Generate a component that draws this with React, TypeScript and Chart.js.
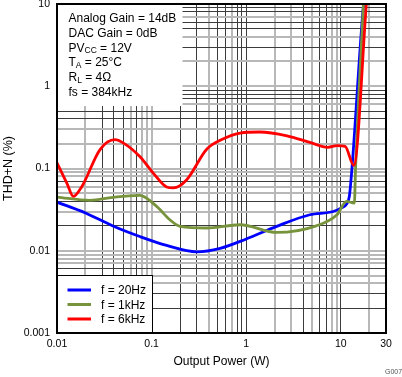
import React, { useEffect, useRef } from 'react';
import { Chart, registerables } from 'chart.js';

Chart.register(...registerables);

// ---- Data ----
const f20Power = [0.01, 0.02, 0.039, 0.075, 0.144, 0.3, 0.53, 1.0, 2.1, 4.7, 8.3, 10, 11.5, 12.3, 13.1, 17.3, 17.8];
const f20Thd = [0.039, 0.0288, 0.02, 0.0149, 0.0116, 0.0097, 0.0107, 0.0139, 0.0198, 0.0274, 0.03, 0.033, 0.037, 0.046, 0.1, 9.4, 12];

const f1kPower = [0.01, 0.0224, 0.039, 0.075, 0.113, 0.156, 0.2, 0.38, 0.86, 2.1, 5.5, 9.1, 11.5, 13.9, 14.3, 17.4];
const f1kThd = [0.045, 0.041, 0.0446, 0.047, 0.0346, 0.0238, 0.0198, 0.0189, 0.0207, 0.0167, 0.0201, 0.0274, 0.0398, 0.038, 0.1, 11];

const f6kPower = [0.01, 0.0127, 0.0149, 0.0182, 0.0285, 0.041, 0.05, 0.075, 0.104, 0.144, 0.17, 0.235, 0.38, 0.53, 0.86, 1.39, 2.7, 4.7, 7.3, 9.1, 11.1, 13.7, 18.6];
const f6kThd = [0.117, 0.0665, 0.0458, 0.0596, 0.17, 0.224, 0.205, 0.14, 0.088, 0.0596, 0.058, 0.073, 0.17, 0.22, 0.27, 0.278, 0.25, 0.208, 0.181, 0.19, 0.186, 0.109, 10];

const seriesLabels = ['f = 20Hz', 'f = 1kHz', 'f = 6kHz'];
const seriesColors = ['#0000FF', '#77933C', '#FF0000'];

const xLabelValues = [0.01, 0.1, 1, 10, 30];
const xLabels = ['0.01', '0.1', '1', '10', '30'];
const yLabelValues = [0.001, 0.01, 0.1, 1, 10];
const yLabels = ['0.001', '0.01', '0.1', '1', '10'];

const xDecades = [0.01, 0.1, 1];
const xExtra = [10, 20, 30];
const yDecades = [0.001, 0.01, 0.1, 1];
const yExtra = [10];
const multipliers = [1, 2, 3, 4, 5, 6, 7, 8, 9];

const conditions: Array<Array<[string, boolean]>> = [
  [['Analog Gain = 14dB', false]],
  [['DAC Gain = 0dB', false]],
  [['PV', false], ['CC', true], [' = 12V', false]],
  [['T', false], ['A', true], [' = 25°C', false]],
  [['R', false], ['L', true], [' = 4Ω', false]],
  [['fs = 384kHz', false]],
];

const xTitle = 'Output Power (W)';
const yTitle = 'THD+N (%)';
const figId = 'G007';

// ---- helpers ----
const FONT = '"Liberation Sans", Arial, sans-serif';
const gridValues = (decades: number[], extra: number[]) => {
  const out: number[] = [];
  decades.forEach((d) => multipliers.forEach((m) => out.push(Number((d * m).toPrecision(3)))));
  return out.concat(extra);
};
const xGrid = gridValues(xDecades, xExtra);
const yGrid = gridValues(yDecades, yExtra);

const labelFor = (v: number, vals: number[], labels: string[]) => {
  const i = vals.findIndex((L) => Math.abs(v - L) / L < 1e-6);
  return i >= 0 ? labels[i] : '';
};

const gridColor = (c: any) => {
  if (!c.tick || !c.scale) return '#666';
  const p = c.scale.getPixelForValue(c.tick.value);
  const d = Math.abs(p - Math.round(p));
  return d < 0.25 ? '#3c3c3c' : '#b8b8b8';
};
const gridWidth = (c: any) => {
  if (!c.tick || !c.scale) return 1;
  const p = c.scale.getPixelForValue(c.tick.value);
  const d = Math.abs(p - Math.round(p));
  return d < 0.25 ? 1 : 2;
};

const zip = (xs: number[], ys: number[]) => xs.map((x, i) => ({ x, y: ys[i] }));

const overlayPlugin = {
  id: 'overlay',
  beforeDatasetsDraw(chart: any) {
    const { ctx, chartArea: a } = chart;
    ctx.save();
    // conditions box
    ctx.fillStyle = '#ffffff';
    ctx.fillRect(a.left, a.top, 125.5, 102);
    ctx.fillStyle = '#000';
    ctx.textBaseline = 'alphabetic';
    conditions.forEach((parts, i) => {
      let x = a.left + 11.5;
      const y = a.top + 18 + i * 14.8;
      parts.forEach(([t, sub]) => {
        ctx.font = sub ? `8.5px ${FONT}` : `12px ${FONT}`;
        ctx.fillText(t, x, sub ? y + 1.8 : y);
        x += ctx.measureText(t).width;
      });
    });
    // legend box
    const lx = a.left, ly = 275, lw = 95, lh = a.bottom - 275;
    ctx.fillStyle = '#ffffff';
    ctx.fillRect(lx, ly, lw, lh);
    ctx.strokeStyle = '#000';
    ctx.lineWidth = 1;
    ctx.strokeRect(lx + 0.5, ly + 0.5, lw, lh);
    const rows = [290, 304.5, 319];
    seriesLabels.forEach((lab, i) => {
      ctx.strokeStyle = seriesColors[i];
      ctx.lineWidth = 3;
      ctx.beginPath();
      ctx.moveTo(lx + 10.5, rows[i]);
      ctx.lineTo(lx + 34, rows[i]);
      ctx.stroke();
      ctx.fillStyle = '#000';
      ctx.font = `12px ${FONT}`;
      ctx.fillText(lab, lx + 44, rows[i] + 4.3);
    });
    ctx.restore();
  },
  afterDraw(chart: any) {
    const { ctx, chartArea: a } = chart;
    ctx.save();
    ctx.strokeStyle = '#000';
    ctx.lineWidth = 2;
    ctx.strokeRect(a.left, a.top, a.right - a.left, a.bottom - a.top);
    ctx.fillStyle = '#555';
    ctx.font = `7px ${FONT}`;
    ctx.textBaseline = 'middle';
    ctx.fillText(figId, 385, 372);
    ctx.restore();
  },
};

export default function App() {
  const ref = useRef<HTMLCanvasElement | null>(null);
  useEffect(() => {
    document.body.style.margin = '0';
    const canvas = ref.current;
    if (!canvas) return;
    const mk = (i: number, xs: number[], ys: number[], order: number) => ({
      label: seriesLabels[i],
      data: zip(xs, ys),
      borderColor: seriesColors[i],
      backgroundColor: seriesColors[i],
      borderWidth: 2.8,
      pointRadius: 0,
      cubicInterpolationMode: 'monotone' as const,
      order,
    });
    const chart = new Chart(canvas, {
      type: 'line',
      data: {
        datasets: [
          mk(0, f20Power, f20Thd, 2),
          mk(1, f1kPower, f1kThd, 1),
          mk(2, f6kPower, f6kThd, 0),
        ],
      },
      options: {
        responsive: false,
        animation: false,
        layout: { padding: { top: 4, right: 16, left: 0, bottom: 0 } },
        plugins: { legend: { display: false }, tooltip: { enabled: false } },
        scales: {
          x: {
            type: 'logarithmic',
            min: 0.01,
            max: 30,
            afterBuildTicks: (s: any) => {
              s.ticks = xGrid.map((v) => ({ value: v }));
            },
            afterFit: (s: any) => {
              s.height = 44;
              s.paddingLeft = 0;
              s.paddingRight = 0;
            },
            ticks: {
              autoSkip: false,
              maxRotation: 0,
              minRotation: 0,
              padding: 5,
              color: '#000',
              font: { family: FONT, size: 10.5 },
              callback: (v: any) => labelFor(Number(v), xLabelValues, xLabels),
            },
            grid: { color: gridColor, lineWidth: gridWidth, drawTicks: false },
            border: { display: false },
            title: {
              display: true,
              text: xTitle,
              color: '#000',
              font: { family: FONT, size: 12 },
              padding: { top: 0, bottom: 8 },
            },
          },
          y: {
            type: 'logarithmic',
            min: 0.001,
            max: 10,
            afterBuildTicks: (s: any) => {
              s.ticks = yGrid.map((v) => ({ value: v }));
            },
            afterFit: (s: any) => {
              s.width = 57;
              s.paddingTop = 0;
              s.paddingBottom = 0;
            },
            ticks: {
              autoSkip: false,
              padding: 7,
              color: '#000',
              font: { family: FONT, size: 10.5 },
              callback: (v: any) => labelFor(Number(v), yLabelValues, yLabels),
            },
            grid: { color: gridColor, lineWidth: gridWidth, drawTicks: false },
            border: { display: false },
            title: {
              display: true,
              text: yTitle,
              color: '#000',
              font: { family: FONT, size: 12.5 },
              padding: { top: 1, bottom: 0 },
            },
          },
        },
      },
      plugins: [overlayPlugin],
    });
    return () => chart.destroy();
  }, []);
  return (
    <div style={{ width: 402, height: 377 }}>
      <canvas ref={ref} width={402} height={377} />
    </div>
  );
}
